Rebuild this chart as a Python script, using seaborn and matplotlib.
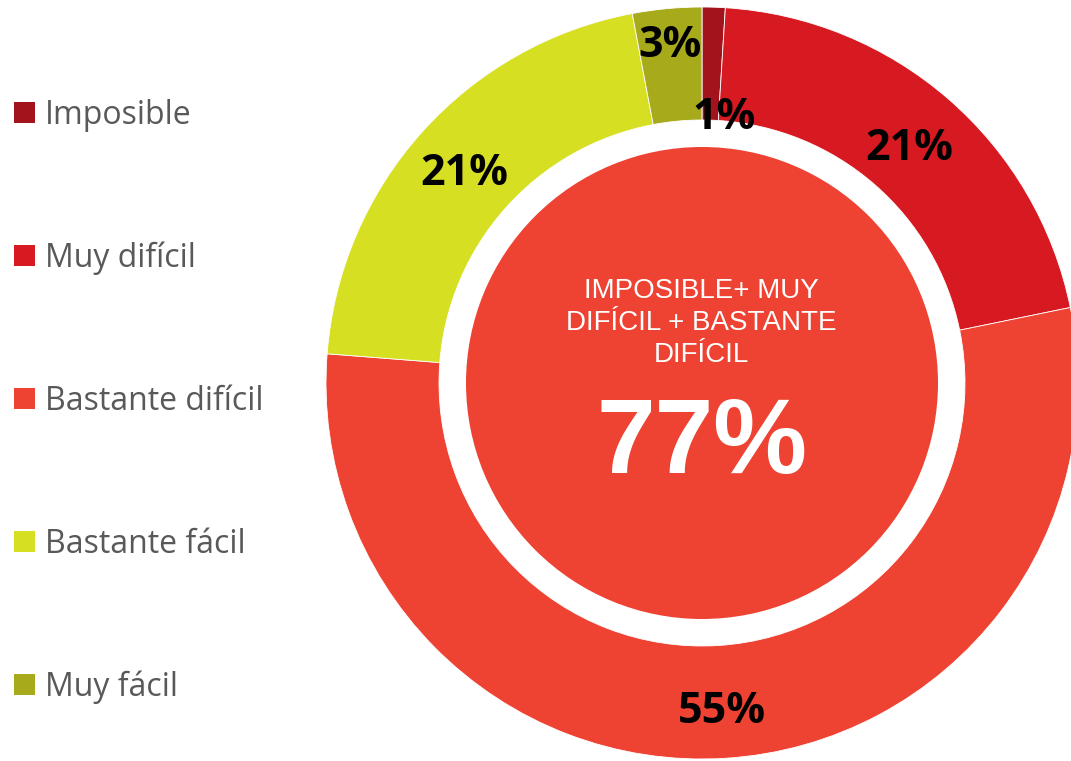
import numpy as np
import matplotlib
matplotlib.use("Agg")
import matplotlib.pyplot as plt
import seaborn as sns
from matplotlib.patches import Rectangle, Circle

categories = ["Imposible", "Muy difícil", "Bastante difícil", "Bastante fácil", "Muy fácil"]
values = [1, 21, 55, 21, 3]
value_labels = ["1%", "21%", "55%", "21%", "3%"]
colors = ["#A3131B", "#D71A21", "#EE4232", "#D6DF22", "#A7AB1B"]
center_title = "IMPOSIBLE+ MUY\nDIFÍCIL + BASTANTE\nDIFÍCIL"
center_value = "77%"

sns.set_theme(style="white")
plt.rcParams["font.family"] = ["Open Sans", "DejaVu Sans"]

W, H = 1071, 761
fig = plt.figure(figsize=(W / 100, H / 100), dpi=100)
ax = fig.add_axes([0, 0, 1, 1])

cx, cy = 702, 378
R_out, R_in, R_disk = 376, 263, 236

ax.pie(values, colors=colors, startangle=90, counterclock=False,
       radius=R_out, center=(cx, cy),
       wedgeprops=dict(width=R_out - R_in, edgecolor="white", linewidth=0.6))
ax.add_patch(Circle((cx, cy), R_disk, facecolor="#EE4232", edgecolor="none"))

# value labels
label_radius = [0.718, 0.84, 0.867, 0.848, 0.91]
label_nudge = [2.9, 0, 0, 0, 0]
total = sum(values)
cum = 0
for i, v in enumerate(values):
    theta = np.deg2rad(360 * (cum + v / 2) / total + label_nudge[i])
    cum += v
    r = label_radius[i] * R_out
    x = cx + r * np.sin(theta)
    y = cy + r * np.cos(theta)
    ax.text(x, y - 15, value_labels[i], ha="center", va="baseline",
            fontsize=31, fontweight="bold", color="black", family=["Open Sans", "DejaVu Sans"])

# center text
ax.text(cx - 1, H - 362, center_title, ha="center", va="baseline", color="white",
        fontsize=20, linespacing=1.3, multialignment="center",
        family=["Liberation Sans", "DejaVu Sans"])
ax.text(cx, H - 473, center_value, ha="center", va="baseline", color="white",
        fontsize=76, fontweight="bold", family=["Liberation Sans", "DejaVu Sans"])

# legend
base0, step = 124, 143
for i, (cat, col) in enumerate(zip(categories, colors)):
    b = H - (base0 + step * i)
    ax.add_patch(Rectangle((14, b + 1), 21, 21, facecolor=col, edgecolor="none"))
    ax.text(45, b, cat, ha="left", va="baseline", fontsize=23, color="#595959",
            family=["Open Sans", "DejaVu Sans"])

ax.set_xlim(0, W)
ax.set_ylim(0, H)
ax.set_aspect("equal")
ax.axis("off")
fig.savefig("out.png", dpi=100)
